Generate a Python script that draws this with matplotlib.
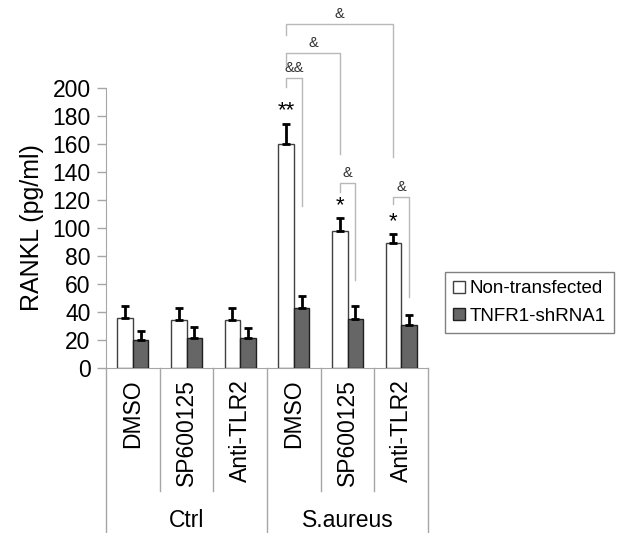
import numpy as np
import matplotlib
matplotlib.use("Agg")
import matplotlib.pyplot as plt
import matplotlib.transforms as mtransforms

plt.rcParams['font.family'] = ['Liberation Sans', 'DejaVu Sans']

# data
treatments = ["DMSO", "SP600125", "Anti-TLR2", "DMSO", "SP600125", "Anti-TLR2"]
groups = ["Ctrl", "S.aureus"]
non_trans = [35.5, 34, 34.5, 160, 98, 89.5]
non_trans_err = [8.5, 9, 8.5, 14.5, 9, 6]
shrna = [20, 21.5, 21.5, 43, 35, 31]
shrna_err = [6.5, 7.5, 7, 8.5, 9, 7]

# significance brackets: (left bar, right bar, height, left leg end, right leg end, label)
# bar index: (category, 0 = non-transfected / 1 = shRNA)
brackets = [
    ((3, 0), (5, 0), 246, 238, 151, "&"),
    ((3, 0), (4, 0), 225, 216, 153, "&"),
    ((3, 0), (3, 1), 207, 201, 116, "&&"),
    ((4, 0), (4, 1), 132, 126, 63, "&"),
    ((5, 0), (5, 1), 122, 117, 51, "&"),
]
stars = {3: "**", 4: "*", 5: "*"}

gray = "#a6a6a6"
w = 0.29
x = np.arange(len(treatments))

fig = plt.figure(figsize=(6.25, 5.33), dpi=100)
ax = fig.add_axes([0.1696, 0.3096, 0.5152, 0.5253])

ax.bar(x - w, non_trans, w, align="edge", color="white", edgecolor="#404040",
       linewidth=1, label="Non-transfected", zorder=3)
ax.bar(x, shrna, w, align="edge", color="#666666", edgecolor="#202020",
       linewidth=1, label="TNFR1-shRNA1", zorder=3)
ax.errorbar(x - w / 2, non_trans, yerr=[np.zeros(6), non_trans_err], fmt="none",
            ecolor="black", elinewidth=2, capsize=3, capthick=2, zorder=4)
ax.errorbar(x + w / 2, shrna, yerr=[np.zeros(6), shrna_err], fmt="none",
            ecolor="black", elinewidth=2, capsize=3, capthick=2, zorder=4)

ax.set_xlim(-0.5, 5.5)
ax.set_ylim(0, 200)
ax.set_yticks(range(0, 201, 20))
ax.tick_params(axis="y", labelsize=16.5, color=gray, length=6.5, width=1, pad=4.5)
ax.set_xticks(x)
ax.set_xticklabels(treatments, rotation=90, fontsize=16.5, va="top")
ax.tick_params(axis="x", length=0, pad=8)
ax.set_ylabel("RANKL (pg/ml)", fontsize=18, labelpad=6)
for s in ["top", "right"]:
    ax.spines[s].set_visible(False)
for s in ["left", "bottom"]:
    ax.spines[s].set_color(gray)

# category separators below the axis
trans = mtransforms.blended_transform_factory(ax.transData, ax.transAxes)
for b in [0.5, 1.5, 3.5, 4.5]:
    ax.plot([b, b], [0, -0.44], color=gray, lw=1, transform=trans, clip_on=False)
for b in [-0.5, 2.5, 5.5]:
    ax.plot([b, b], [0, -0.6], color=gray, lw=1, transform=trans, clip_on=False)
for i, g in enumerate(groups):
    ax.text(1 + 3 * i, -0.543, g, fontsize=16.5, ha="center", va="center",
            transform=trans)

def bar_x(idx):
    c, k = idx
    return c - w / 2 if k == 0 else c + w / 2

for left, right, h, lend, rend, lab in brackets:
    x0, x1 = bar_x(left), bar_x(right)
    ax.plot([x0, x0, x1, x1], [lend, h, h, rend], color="#b8b8b8", lw=1,
            clip_on=False, zorder=2)
    ax.text((x0 + x1) / 2, h + 7, lab, fontsize=10.5, ha="center", va="center",
            color="#303030", clip_on=False)

for c, s in stars.items():
    ax.text(c - w / 2, non_trans[c] + non_trans_err[c] + 9, s, fontsize=16,
            ha="center", va="center", clip_on=False)

leg = fig.legend(loc="upper left", bbox_to_anchor=(445 / 625, 1 - 272 / 533),
                 fontsize=13.5, frameon=True, fancybox=False, handlelength=0.6,
                 handleheight=0.6, handletextpad=0.25, borderpad=0.45,
                 labelspacing=0.55, borderaxespad=0)
leg.get_frame().set_edgecolor("#606060")
leg.get_frame().set_linewidth(1)

fig.savefig("out.png", dpi=100)
